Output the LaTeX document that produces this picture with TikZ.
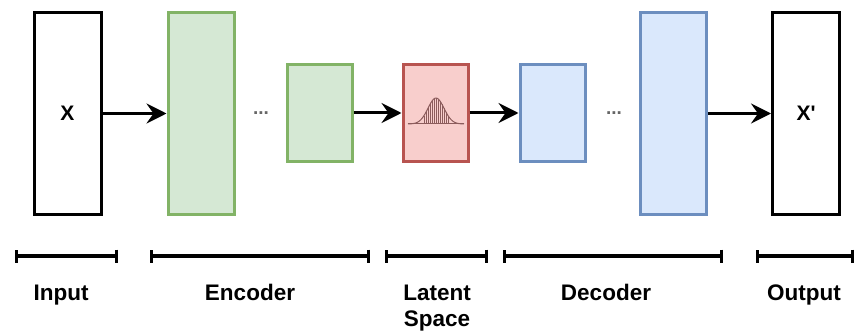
\documentclass[tikz,border=0pt]{standalone}
\usepackage{fontspec}
\setmainfont{Liberation Sans}
\newfontfamily\plainsans[Ligatures=TeXOff]{Liberation Sans}
\usetikzlibrary{arrows.meta}
\definecolor{encfill}{HTML}{D5E8D4}
\definecolor{encline}{HTML}{82B366}
\definecolor{latfill}{HTML}{F8CECC}
\definecolor{latline}{HTML}{B85450}
\definecolor{decfill}{HTML}{DAE8FC}
\definecolor{decline}{HTML}{6C8EBF}
\definecolor{gauss}{HTML}{8C5C5C}
\tikzset{
  layer/.style={draw, line width=3pt, inner sep=0pt},
  iobox/.style={layer, draw=black, fill=white, minimum width=67pt, minimum height=201pt},
  bigbox/.style={layer, minimum width=66pt, minimum height=201pt},
  smallbox/.style={layer, minimum width=65pt, minimum height=96pt},
  enc/.style={draw=encline, fill=encfill},
  lat/.style={draw=latline, fill=latfill},
  dec/.style={draw=decline, fill=decfill},
  flow/.style={line width=3pt, -{Stealth[length=20pt, width=20pt, inset=7pt]}},
  span/.style={line width=3.5pt, {Bar[width=13pt, line width=3pt]}-{Bar[width=13pt, line width=3pt]}},
  lbl/.style={font=\fontsize{22.5}{26}\selectfont\bfseries, align=center, inner sep=0pt, anchor=base},
  boxlbl/.style={font=\plainsans\fontsize{21}{24}\selectfont\bfseries, inner sep=0pt},
  dots/.style={font=\fontsize{19}{20}\selectfont\bfseries, text=black!60, inner sep=0pt}
}
\begin{document}
\begin{tikzpicture}[x=1pt, y=-1pt]
\useasboundingbox (0,0) rectangle (856,334);
% boxes
\node[iobox] (in) at (67.5,113.5) {};
\node[boxlbl] (x) at (in.center) {X};
\node[bigbox, enc] (enc1) at (201,113.5) {};
\node[dots] (d1) at (261,113) {...};
\node[smallbox, enc] (enc2) at (319.5,113) {};
\node[smallbox, lat] (lat) at (435.5,113) {};
\node[smallbox, dec] (dec1) at (552.5,113) {};
\node[dots] (d2) at (614,113) {...};
\node[bigbox, dec] (dec2) at (673.5,113.5) {};
\node[iobox] (out) at (806,113.5) {};
\node[boxlbl] (xp) at (out.center) {X'};
% gaussian icon
\begin{scope}[gauss]
  \foreach \xx in {424,426,...,448} {
    \draw[line width=0.6pt] (\xx,124) -- (\xx,{124-26*exp(-((\xx-436)/8)^2/2)});
  }
  \draw[line width=1pt, domain=408:464, samples=60] plot (\x,{124-26*exp(-((\x-436)/8)^2/2)});
  \draw[line width=1pt] (408,124) -- (464,124);
\end{scope}
% arrows
\draw[flow] (in.east) -- (enc1.west);
\draw[flow] (enc2.east) -- (lat.west);
\draw[flow] (lat.east) -- (dec1.west);
\draw[flow] (dec2.east) -- (out.west);
% spans
\coordinate (s1a) at (15,256); \coordinate (s1b) at (118,256);
\coordinate (s2a) at (150,256); \coordinate (s2b) at (370,256);
\coordinate (s3a) at (385,256); \coordinate (s3b) at (488,256);
\coordinate (s4a) at (503,256); \coordinate (s4b) at (723,256);
\coordinate (s5a) at (756,256); \coordinate (s5b) at (854,256);
\draw[span] (s1a) -- (s1b);
\draw[span] (s2a) -- (s2b);
\draw[span] (s3a) -- (s3b);
\draw[span] (s4a) -- (s4b);
\draw[span] (s5a) -- (s5b);
% labels
\node[lbl] (l1) at (61,300) {Input};
\node[lbl] (l2) at (250,300) {Encoder};
\node[lbl] (l3) at (437,300) {Latent};
\node[lbl] (l3b) at (437,326) {Space};
\node[lbl] (l4) at (606,300) {Decoder};
\node[lbl] (l5) at (804,300) {Output};
\end{tikzpicture}
\end{document}
